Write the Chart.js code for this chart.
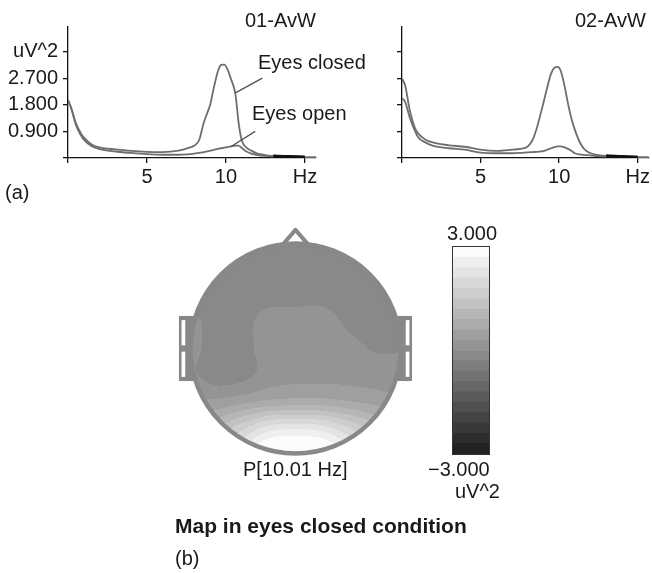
<!DOCTYPE html>
<html>
<head>
<meta charset="utf-8">
<script src="https://cdn.jsdelivr.net/npm/chart.js@4.4.0/dist/chart.umd.min.js"></script>
<style>
  body { margin: 0; background: #fff; width: 652px; height: 573px; overflow: hidden; position: relative;
         font-family: "Liberation Sans", Arial, sans-serif; color: #1a1a1a; }
  canvas { position: absolute; }
  .lbl { position: absolute; font-size: 20px; line-height: 20px; white-space: nowrap; }
  .bold { font-weight: bold; font-size: 21px; line-height: 21px; }
</style>
</head>
<body>
<canvas id="spec1" width="330" height="200" style="left:0;top:0"></canvas>
<canvas id="spec2" width="318" height="200" style="left:334px;top:0"></canvas>
<canvas id="topo" width="241" height="257" style="left:175px;top:220px"></canvas>
<canvas id="cbar" width="50" height="220" style="left:446px;top:240px"></canvas>

<div class="lbl" style="left:245px;top:10px">01-AvW</div>
<div class="lbl" style="left:575px;top:10px">02-AvW</div>
<div class="lbl" style="left:258px;top:52px">Eyes closed</div>
<div class="lbl" style="left:252px;top:103px">Eyes open</div>
<div class="lbl" style="left:5px;top:182px">(a)</div>
<div class="lbl" style="left:243px;top:459px">P[10.01 Hz]</div>
<div class="lbl" style="left:447px;top:223px">3.000</div>
<div class="lbl" style="left:428px;top:459px">−3.000</div>
<div class="lbl" style="left:455px;top:481px">uV^2</div>
<div class="lbl bold" style="left:175px;top:515px">Map in eyes closed condition</div>
<div class="lbl" style="left:175px;top:548px">(b)</div>

<script>
// spectra (uV^2) for the two occipital channels
const freqHz = [0, 0.2, 0.5, 0.8, 1, 1.5, 2, 3, 4, 5, 6, 7, 7.5, 8, 8.3, 8.6, 8.8, 9, 9.2, 9.5,
                9.7, 9.9, 10.1, 10.3, 10.6, 10.8, 11, 11.3, 11.6, 12, 12.5, 13, 14, 15, 15.7];
const o1Closed = [1.96, 1.7, 1.18, 0.85, 0.7, 0.46, 0.36, 0.29, 0.24, 0.21, 0.2, 0.25, 0.32, 0.42, 0.6,
                  1.2, 1.5, 1.8, 2.3, 2.95, 3.15, 3.16, 3.0, 2.7, 2.15, 1.2, 0.6, 0.35, 0.25, 0.15,
                  0.1, 0.06, 0.04, 0.02, 0.02];
const o1Open = [1.96, 1.68, 1.12, 0.78, 0.62, 0.4, 0.3, 0.22, 0.17, 0.13, 0.11, 0.11, 0.12, 0.15, 0.17,
                0.2, 0.22, 0.25, 0.27, 0.31, 0.33, 0.35, 0.37, 0.39, 0.42, 0.42, 0.34, 0.22, 0.15, 0.1,
                0.07, 0.05, 0.03, 0.02, 0.02];
const o2Closed = [2.69, 2.45, 1.6, 1.05, 0.85, 0.62, 0.52, 0.43, 0.38, 0.28, 0.24, 0.28, 0.31, 0.39, 0.6,
                  1.05, 1.45, 1.86, 2.3, 2.87, 3.05, 3.08, 2.95, 2.55, 1.75, 1.3, 0.95, 0.55, 0.3, 0.16,
                  0.1, 0.07, 0.04, 0.02, 0.02];
const o2Open = [2.02, 1.9, 1.35, 0.95, 0.72, 0.52, 0.41, 0.33, 0.28, 0.18, 0.16, 0.16, 0.17, 0.19, 0.2,
                0.21, 0.22, 0.23, 0.27, 0.33, 0.37, 0.39, 0.39, 0.37, 0.3, 0.24, 0.16, 0.12, 0.1, 0.09,
                0.06, 0.05, 0.03, 0.02, 0.02];

const xTickValues = [0, 5, 10, 15];
const xTickLabels = ['', '5', '10', 'Hz'];
const yTickValues = [0, 0.9, 1.8, 2.7, 3.6];
const yTickLabels = ['', '0.900', '1.800', '2.700', 'uV^2'];

// topographic map at 10.01 Hz, sampled on a 9x9 grid over the head (x: left->right, y: front->back)
const gridX = [-1, -0.75, -0.5, -0.25, 0, 0.25, 0.5, 0.75, 1];
const gridY = [1, 0.75, 0.5, 0.25, 0, -0.25, -0.5, -0.75, -1];
const mapRows = [
  [-0.15, -0.15, -0.15, -0.15, -0.15, -0.15, -0.15, -0.15, -0.15],
  [-0.15, -0.15, -0.15, -0.15, -0.15, -0.15, -0.15, -0.15, -0.15],
  [-0.15, -0.15, -0.15, -0.12, -0.1, -0.1, -0.15, -0.15, -0.15],
  [0.1, -0.15, -0.1, 0.15, 0.15, 0.15, -0.05, -0.15, -0.15],
  [0.1, -0.15, -0.1, 0.15, 0.15, 0.15, 0.1, -0.02, -0.02],
  [0.05, -0.15, -0.1, 0.15, 0.2, 0.2, 0.2, 0.15, 0.1],
  [0.4, 0.35, 0.5, 0.65, 0.7, 0.7, 0.6, 0.5, 0.4],
  [1.0, 1.2, 1.7, 2.2, 2.3, 2.2, 1.8, 1.3, 1.0],
  [1.5, 1.8, 2.5, 3.2, 3.3, 3.2, 2.6, 1.9, 1.5]
];

// colour scale levels, -3.000 .. 3.000 uV^2
const scaleLevels = [-3, -2.7, -2.4, -2.1, -1.8, -1.5, -1.2, -0.9, -0.6, -0.3, 0,
                     0.3, 0.6, 0.9, 1.2, 1.5, 1.8, 2.1, 2.4, 2.7, 3];

const FONT = '"Liberation Sans", Arial, sans-serif';
Chart.defaults.font.family = FONT;

function bandColor(v) {
  const n = scaleLevels.length - 1;
  let i = 0;
  while (i < n - 1 && v >= scaleLevels[i + 1]) i++;
  const g = Math.round(34 + i * 11.4);
  return 'rgb(' + g + ',' + g + ',' + g + ')';
}

// leader lines from a curve to its label, in data units
const leaderPlugin = {
  id: 'leaders',
  afterDatasetsDraw(chart, args, opts) {
    const { ctx, scales: { x, y } } = chart;
    ctx.save();
    ctx.strokeStyle = '#555';
    ctx.lineWidth = 1.4;
    (opts.lines || []).forEach(l => {
      ctx.beginPath();
      ctx.moveTo(x.getPixelForValue(l[0]), y.getPixelForValue(l[1]));
      ctx.lineTo(x.getPixelForValue(l[2]), y.getPixelForValue(l[3]));
      ctx.stroke();
    });
    ctx.restore();
  }
};

function traceStyle() {
  return {
    borderColor: '#6e6e6e',
    borderWidth: 1.8,
    pointRadius: 0,
    fill: false,
    cubicInterpolationMode: 'monotone',
    segment: {
      // the two traces sit on top of each other near the axis above 13 Hz
      borderColor: c => (c.p0.parsed.x >= 13 && c.p1.parsed.x <= 15 ? '#111' : undefined),
      borderWidth: c => (c.p0.parsed.x >= 13 && c.p1.parsed.x <= 15 ? 3.5 : undefined)
    }
  };
}

function spectrumChart(id, closed, open, showLabels, padRight, leaders) {
  const axisColor = '#111';
  return new Chart(document.getElementById(id), {
    type: 'line',
    data: {
      datasets: [
        Object.assign({ label: 'Eyes closed', data: freqHz.map((f, i) => ({ x: f, y: closed[i] })) }, traceStyle()),
        Object.assign({ label: 'Eyes open', data: freqHz.map((f, i) => ({ x: f, y: open[i] })) }, traceStyle())
      ]
    },
    options: {
      responsive: false,
      animation: false,
      layout: { padding: { top: 27, right: padRight, left: 0, bottom: 0 } },
      plugins: {
        legend: { display: false },
        tooltip: { enabled: false },
        leaders: { lines: leaders }
      },
      scales: {
        x: {
          type: 'linear', min: 0, max: 15.7,
          border: { color: axisColor, width: 1.3 },
          grid: { drawOnChartArea: false, tickLength: 5, color: axisColor, lineWidth: 1.3 },
          ticks: {
            color: '#1a1a1a', font: { size: 20 }, padding: 2, maxRotation: 0, autoSkip: false,
            callback: v => xTickLabels[xTickValues.indexOf(v)]
          },
          afterBuildTicks: s => { s.ticks = xTickValues.map(v => ({ value: v })); },
          afterFit: s => { s.height = 42; }
        },
        y: {
          type: 'linear', min: 0, max: 4.43,
          border: { color: axisColor, width: 1.3 },
          grid: { drawOnChartArea: false, tickLength: 5, color: axisColor, lineWidth: 1.3 },
          ticks: {
            color: '#1a1a1a', font: { size: 20 }, padding: 5, autoSkip: false,
            callback: v => (showLabels ? yTickLabels[yTickValues.indexOf(v)] : '')
          },
          afterBuildTicks: s => { s.ticks = yTickValues.map(v => ({ value: v })); },
          afterFit: s => { s.width = 68; }
        }
      }
    },
    plugins: [leaderPlugin]
  });
}

spectrumChart('spec1', o1Closed, o1Open, true, 14,
  [[10.6, 2.2, 12.3, 2.7], [10.3, 0.38, 11.85, 0.9]]);
spectrumChart('spec2', o2Closed, o2Open, false, 2, []);

// smooth sampling of the map grid (Catmull-Rom)
function cr(p0, p1, p2, p3, t) {
  return p1 + 0.5 * t * (p2 - p0 + t * (2 * p0 - 5 * p1 + 4 * p2 - p3 + t * (3 * (p1 - p2) + p3 - p0)));
}
function gridAt(r, c) {
  r = Math.max(0, Math.min(gridY.length - 1, r));
  c = Math.max(0, Math.min(gridX.length - 1, c));
  return mapRows[r][c];
}
function mapValue(x, y) {
  const fc = (x - gridX[0]) / (gridX[1] - gridX[0]);
  const fr = (gridY[0] - y) / (gridY[0] - gridY[1]);
  const c = Math.floor(fc), r = Math.floor(fr);
  const tc = fc - c, tr = fr - r;
  const rows = [];
  for (let k = -1; k <= 2; k++) {
    rows.push(cr(gridAt(r + k, c - 1), gridAt(r + k, c), gridAt(r + k, c + 1), gridAt(r + k, c + 2), tc));
  }
  return cr(rows[0], rows[1], rows[2], rows[3], tr);
}

const headColor = '#888888';
const headPlugin = {
  id: 'head',
  beforeDatasetsDraw(chart) {
    const { ctx, scales: { x, y } } = chart;
    const px = v => x.getPixelForValue(v);
    const py = v => y.getPixelForValue(v);
    const cx = px(0), cy = py(0);
    const r = px(1) - cx;
    ctx.save();

    // ears
    [[-1.11, -0.97], [0.97, 1.11]].forEach(([a, b]) => {
      ctx.fillStyle = headColor;
      ctx.fillRect(px(a), py(0.31), px(b) - px(a), py(-0.31) - py(0.31));
      const s0 = a < 0 ? -1.085 : 1.05, s1 = a < 0 ? -1.05 : 1.085;
      ctx.fillStyle = '#fff';
      ctx.fillRect(px(s0), py(0.27), px(s1) - px(s0), py(0.03) - py(0.27));
      ctx.fillRect(px(s0), py(-0.03), px(s1) - px(s0), py(-0.27) - py(-0.03));
    });

    // nose
    ctx.beginPath();
    ctx.moveTo(px(-0.13), py(0.98));
    ctx.lineTo(px(0), py(1.13));
    ctx.lineTo(px(0.13), py(0.98));
    ctx.closePath();
    ctx.fillStyle = '#fff';
    ctx.fill();
    ctx.strokeStyle = headColor;
    ctx.lineWidth = 4;
    ctx.lineJoin = 'round';
    ctx.stroke();

    // scalp map, one pixel cell at a time
    for (let j = Math.floor(cy - r); j <= Math.ceil(cy + r); j++) {
      for (let i = Math.floor(cx - r); i <= Math.ceil(cx + r); i++) {
        const gx = x.getValueForPixel(i + 0.5), gy = y.getValueForPixel(j + 0.5);
        if (gx * gx + gy * gy > 1) continue;
        ctx.fillStyle = bandColor(mapValue(gx, gy));
        ctx.fillRect(i, j, 1, 1);
      }
    }

    // head outline
    ctx.beginPath();
    ctx.arc(cx, cy, r, 0, Math.PI * 2);
    ctx.strokeStyle = headColor;
    ctx.lineWidth = 4.5;
    ctx.stroke();
    ctx.restore();
  }
};

new Chart(document.getElementById('topo'), {
  type: 'scatter',
  data: { datasets: [] },
  options: {
    responsive: false,
    animation: false,
    layout: { padding: 0 },
    plugins: { legend: { display: false }, tooltip: { enabled: false } },
    scales: {
      x: { type: 'linear', display: false, min: -1.147619, max: 1.147619 },
      y: { type: 'linear', display: false, min: -1.22381, max: 1.22381 }
    }
  },
  plugins: [headPlugin]
});

// colour bar: one floating bar per level band
const framePlugin = {
  id: 'frame',
  afterDatasetsDraw(chart) {
    const { ctx, chartArea: a } = chart;
    ctx.save();
    ctx.strokeStyle = '#333';
    ctx.lineWidth = 1;
    ctx.strokeRect(a.left - 0.5, a.top - 0.5, a.right - a.left + 1, a.bottom - a.top + 1);
    ctx.restore();
  }
};

new Chart(document.getElementById('cbar'), {
  type: 'bar',
  data: {
    labels: [''],
    datasets: scaleLevels.slice(0, -1).map((lo, i) => ({
      data: [[lo, scaleLevels[i + 1]]],
      backgroundColor: bandColor((lo + scaleLevels[i + 1]) / 2),
      borderWidth: 0,
      barPercentage: 1,
      categoryPercentage: 1,
      grouped: false
    }))
  },
  options: {
    responsive: false,
    animation: false,
    layout: { padding: { left: 7, right: 7, top: 7, bottom: 6 } },
    plugins: { legend: { display: false }, tooltip: { enabled: false } },
    scales: {
      x: { display: false },
      y: { display: false, min: -3, max: 3 }
    }
  },
  plugins: [framePlugin]
});
</script>
</body>
</html>
